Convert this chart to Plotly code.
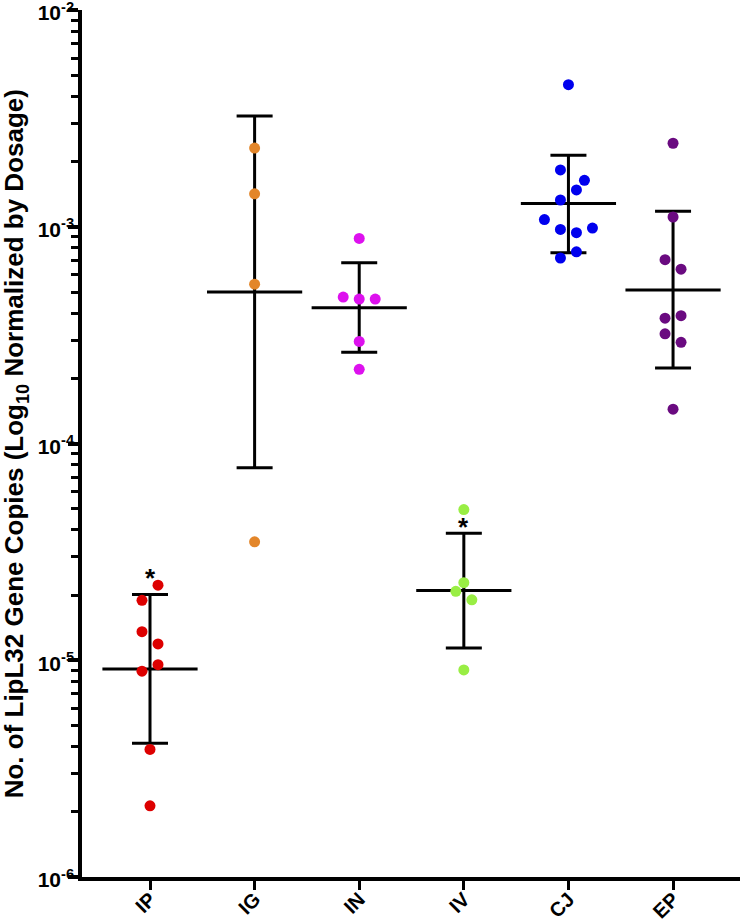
import numpy as np
import plotly.graph_objects as go

# ---------------- data ----------------
categories = ["IP", "IG", "IN", "IV", "CJ", "EP"]
colors = ["#dd0000", "#e3862a", "#dd11ee", "#99ee44", "#0000ee", "#6a0a80"]

ip_values = [2.22e-5, 1.89e-5, 1.355e-5, 1.19e-5, 9.54e-6, 8.91e-6, 3.88e-6, 2.13e-6]
ig_values = [2.31e-3, 1.42e-3, 5.44e-4, 3.52e-5]
in_values = [8.84e-4, 4.74e-4, 4.64e-4, 4.64e-4, 2.96e-4, 2.20e-4]
iv_values = [4.96e-5, 2.28e-5, 2.08e-5, 1.90e-5, 9.02e-6]
cj_values = [4.53e-3, 1.83e-3, 1.64e-3, 1.48e-3, 1.33e-3, 1.08e-3, 9.73e-4, 9.40e-4, 9.87e-4, 7.67e-4, 7.18e-4]
ep_values = [2.43e-3, 1.11e-3, 7.05e-4, 6.38e-4, 3.89e-4, 3.79e-4, 3.21e-4, 2.93e-4, 1.44e-4]

# scatter slot (column-scatter spread, in half-dot steps)
ip_slots = [1, -1, -1, 1, 1, -1, 0, 0]
ig_slots = [0, 0, 0, 0]
in_slots = [0, -2, 0, 2, 0, 0]
iv_slots = [0, 0, -1, 1, 0]
cj_slots = [0, -1, 2, 1, -1, -3, -1, 1, 3, 1, -1]
ep_slots = [0, 0, -1, 1, 1, -1, -1, 1, 0]

# geometric mean and SD limits
group_means = [9.12e-6, 5.01e-4, 4.23e-4, 2.10e-5, 1.28e-3, 5.11e-4]
group_lower = [4.14e-6, 7.73e-5, 2.64e-4, 1.14e-5, 7.59e-4, 2.23e-4]
group_upper = [2.01e-5, 3.25e-3, 6.82e-4, 3.86e-5, 2.14e-3, 1.18e-3]

# significance marks
star_groups = ["IP", "IV"]
star_values = [2.53e-5, 4.35e-5]

y_tick_values = [1e-6, 1e-5, 1e-4, 1e-3, 1e-2]
y_tick_labels = ["<b>10<sup>-6</sup></b>", "<b>10<sup>-5</sup></b>", "<b>10<sup>-4</sup></b>",
                 "<b>10<sup>-3</sup></b>", "<b>10<sup>-2</sup></b>"]
y_title = "<b>No. of LipL32 Gene Copies (Log<sub>10</sub> Normalized by Dosage)</b>"

all_values = [ip_values, ig_values, in_values, iv_values, cj_values, ep_values]
all_slots = [ip_slots, ig_slots, in_slots, iv_slots, cj_slots, ep_slots]

SLOT = 0.0765
FONT = "Liberation Sans, Arial, sans-serif"

fig = go.Figure()

# mean line + SD error bars
fig.add_trace(go.Scatter(
    x=list(range(len(categories))), y=group_means, mode="markers",
    marker=dict(symbol="line-ew", size=68, line=dict(width=3, color="black"), color="black"),
    error_y=dict(type="data", symmetric=False,
                 array=[u - m for u, m in zip(group_upper, group_means)],
                 arrayminus=[m - l for l, m in zip(group_lower, group_means)],
                 width=18, thickness=3, color="black"),
    showlegend=False, hoverinfo="skip"))

# dots
for i, (vals, slots, col) in enumerate(zip(all_values, all_slots, colors)):
    fig.add_trace(go.Scatter(
        x=[i + s * SLOT for s in slots], y=vals, mode="markers",
        marker=dict(size=11, color=col, line=dict(width=0)),
        name=categories[i], showlegend=False))

# stars
for g, v in zip(star_groups, star_values):
    fig.add_annotation(x=categories.index(g), y=np.log10(v), text="<b>*</b>",
                       showarrow=False, font=dict(size=26, color="black", family=FONT),
                       xanchor="center", yanchor="middle", yshift=-5)

# y title
fig.add_annotation(xref="paper", yref="paper", x=-0.1005, y=0.5, text=y_title,
                   textangle=-90, showarrow=False, xanchor="center", yanchor="middle",
                   font=dict(size=26, color="black", family=FONT))

fig.update_layout(
    width=742, height=922,
    margin=dict(l=82, r=2, t=10, b=45, autoexpand=False),
    paper_bgcolor="white", plot_bgcolor="white",
    xaxis=dict(range=[-0.65, 5.64], tickmode="array", tickvals=list(range(len(categories))),
               ticktext=["<b>%s</b>" % c for c in categories], tickangle=-45, automargin=False,
               ticks="outside", ticklen=9, tickwidth=3, tickcolor="black", ticklabelstandoff=-10,
               ticklabeloverflow="allow",
               showline=True, linewidth=3.5, linecolor="black", showgrid=False, zeroline=False,
               tickfont=dict(size=20, color="black", family=FONT)),
    yaxis=dict(type="log", range=[-6, -1.9995], tickmode="array", tickvals=y_tick_values, automargin=False,
               ticktext=y_tick_labels, ticks="outside", ticklen=10, tickwidth=3.5, tickcolor="black",
               ticklabelstandoff=-10, ticklabelshift=3, ticklabeloverflow="allow",
               showline=True, linewidth=3.5, linecolor="black", showgrid=False, zeroline=False,
               tickfont=dict(size=21, color="black", family=FONT),
               minor=dict(tickvals=[k * 10.0 ** e for e in range(-6, -2) for k in range(2, 10)],
                          ticks="outside", ticklen=7, tickwidth=3, tickcolor="black", showgrid=False)),
)

fig.write_html("out.html", config={"displayModeBar": False},
               post_script="document.body.style.margin='0';document.body.style.padding='0';")
